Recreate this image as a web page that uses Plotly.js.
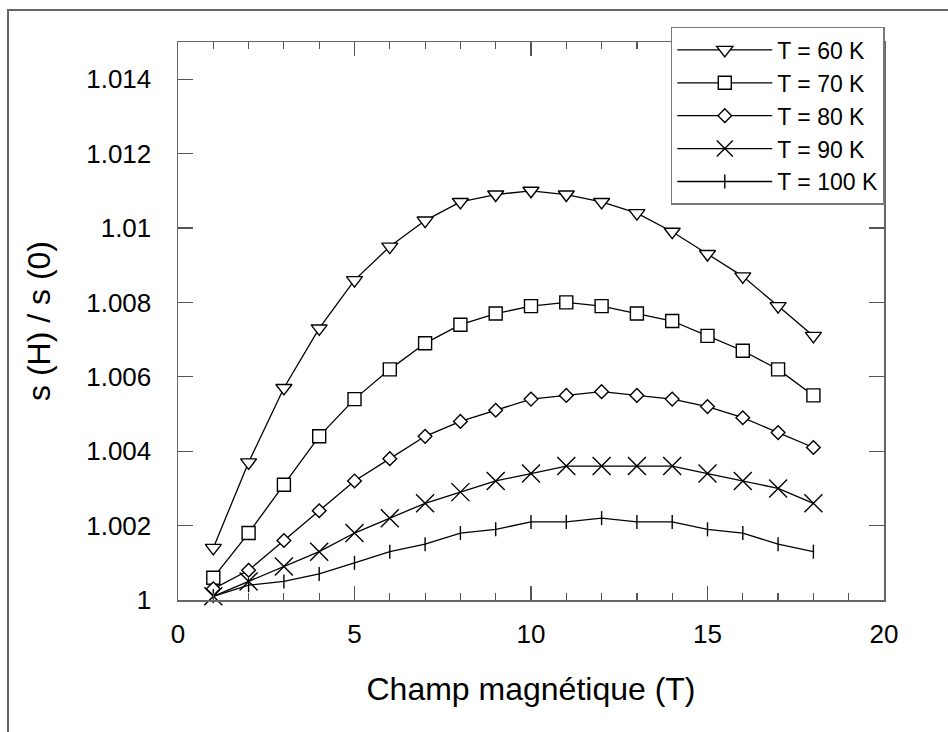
<!DOCTYPE html>
<html>
<head>
<meta charset="utf-8">
<script src="https://cdn.plot.ly/plotly-3.0.1.min.js"></script>
<style>
  html, body { margin: 0; padding: 0; background: #fff; }
  #wrap { position: relative; width: 948px; height: 732px; overflow: hidden; }
  #frame { position: absolute; left: 7px; top: 9px; width: 960px; height: 760px;
           border-left: 2px solid #666; border-top: 2px solid #666; pointer-events: none; z-index: 5; }
  #chart { position: absolute; left: 0; top: 0; width: 948px; height: 732px; }
</style>
</head>
<body>
<div id="wrap">
  <div id="chart"></div>
  <div id="frame"></div>
</div>
<script>
// Magnetic field (T)
const field = [1, 2, 3, 4, 5, 6, 7, 8, 9, 10, 11, 12, 13, 14, 15, 16, 17, 18];

// s(H)/s(0) for each temperature
const t60  = [1.0014, 1.0037, 1.0057, 1.0073, 1.0086, 1.0095, 1.0102, 1.0107, 1.0109, 1.0110, 1.0109, 1.0107, 1.0104, 1.0099, 1.0093, 1.0087, 1.0079, 1.0071];
const t70  = [1.0006, 1.0018, 1.0031, 1.0044, 1.0054, 1.0062, 1.0069, 1.0074, 1.0077, 1.0079, 1.0080, 1.0079, 1.0077, 1.0075, 1.0071, 1.0067, 1.0062, 1.0055];
const t80  = [1.0003, 1.0008, 1.0016, 1.0024, 1.0032, 1.0038, 1.0044, 1.0048, 1.0051, 1.0054, 1.0055, 1.0056, 1.0055, 1.0054, 1.0052, 1.0049, 1.0045, 1.0041];
const t90  = [1.0001, 1.0005, 1.0009, 1.0013, 1.0018, 1.0022, 1.0026, 1.0029, 1.0032, 1.0034, 1.0036, 1.0036, 1.0036, 1.0036, 1.0034, 1.0032, 1.0030, 1.0026];
const t100 = [1.0001, 1.0004, 1.0005, 1.0007, 1.0010, 1.0013, 1.0015, 1.0018, 1.0019, 1.0021, 1.0021, 1.0022, 1.0021, 1.0021, 1.0019, 1.0018, 1.0015, 1.0013];

const seriesNames = ['T = 60 K', 'T = 70 K', 'T = 80 K', 'T = 90 K', 'T = 100 K'];

const xTickVals = [0, 5, 10, 15, 20];
const xTickText = ['0', '5', '10', '15', '20'];
const yTickVals = [1, 1.002, 1.004, 1.006, 1.008, 1.010, 1.012, 1.014];
const yTickText = ['1', '1.002', '1.004', '1.006', '1.008', '1.01', '1.012', '1.014'];

const FONT = 'Liberation Sans, Arial, Helvetica, sans-serif';

function mk(y, name, symbol, size) {
  return {
    x: field, y: y, name: name, type: 'scatter', mode: 'lines+markers',
    line: { color: '#000', width: 1.3 },
    marker: { symbol: symbol, size: size, color: '#fff',
              line: { color: '#000', width: 1.4 } },
    cliponaxis: false
  };
}

const data = [
  mk(t60, seriesNames[0], 'triangle-down', 14),
  mk(t70, seriesNames[1], 'square', 13),
  mk(t80, seriesNames[2], 'diamond', 10.5),
  mk(t90, seriesNames[3], 'x-thin', 18),
  mk(t100, seriesNames[4], 'line-ns', 10)
];

const axisCommon = {
  showgrid: false, zeroline: false, showline: true,
  linecolor: '#666', linewidth: 1.5,
  mirror: 'allticks', ticks: 'inside', tickcolor: '#555', tickwidth: 1.2,
  tickfont: { family: FONT, size: 26, color: '#000' }
};

const layout = {
  width: 948, height: 732, autosize: false,
  paper_bgcolor: '#fff', plot_bgcolor: '#fff',
  margin: { l: 178, r: 64, t: 42, b: 132 },
  font: { family: FONT, color: '#000' },
  xaxis: Object.assign({}, axisCommon, {
    range: [0, 20], tickmode: 'array', tickvals: xTickVals, ticktext: xTickText,
    ticklen: 14, ticklabelstandoff: 10,
    minor: { dtick: 1, tick0: 0, ticks: 'inside', ticklen: 7, tickcolor: '#555', tickwidth: 1.2 },
    title: { text: 'Champ magnétique (T)', font: { family: FONT, size: 32, color: '#000' }, standoff: 30 }
  }),
  yaxis: Object.assign({}, axisCommon, {
    range: [1, 1.015], tickmode: 'array', tickvals: yTickVals, ticktext: yTickText,
    ticklen: 15, ticklabelstandoff: 20,
    title: { text: 's (H) / s (0)', font: { family: FONT, size: 32, color: '#000' }, standoff: 26 }
  }),
  legend: {
    x: 0.698, y: 1.027, xanchor: 'left', yanchor: 'top',
    bgcolor: '#fff', bordercolor: '#777', borderwidth: 1.5,
    font: { family: FONT, size: 23, color: '#000' },
    itemwidth: 95, tracegroupgap: 0
  },
  showlegend: true
};

Plotly.newPlot('chart', data, layout, { displayModeBar: false, staticPlot: true });
</script>
</body>
</html>
